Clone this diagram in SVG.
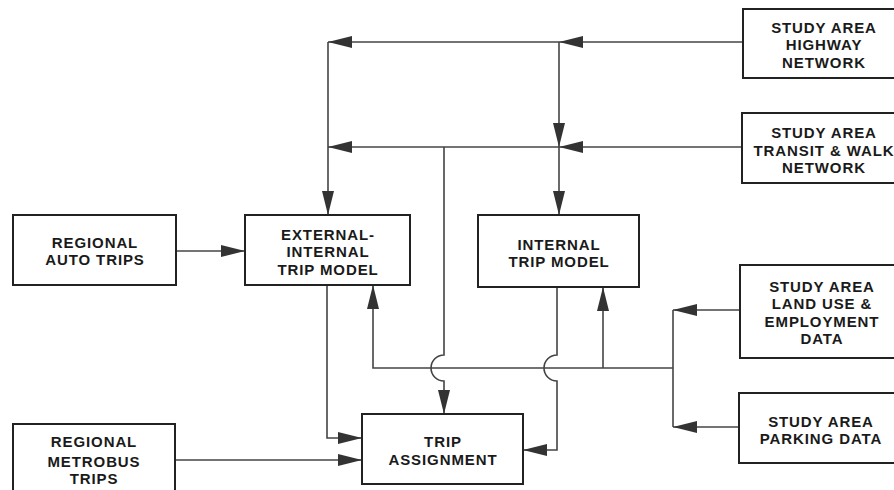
<svg xmlns="http://www.w3.org/2000/svg" width="894" height="490" viewBox="0 0 894 490">
<style>
.box{fill:#fff;stroke:#222;stroke-width:2}
.c{fill:none;stroke:#444;stroke-width:1.6}
.t{font-family:"Liberation Sans",Arial,sans-serif;font-weight:bold;font-size:15px;letter-spacing:0.9px;fill:#1a1a1a;text-anchor:middle}
</style>
<defs>
<marker id="arr" viewBox="0 0 24 12" refX="24" refY="6" markerWidth="24" markerHeight="12" orient="auto" markerUnits="userSpaceOnUse"><path d="M0,0 L24,6 L0,12 Z" fill="#333"/></marker>
</defs>
<rect width="894" height="490" fill="#fff"/>
<g id="connectors">
<path class="c" d="M743,42 H559" marker-end="url(#arr)"/>
<path class="c" d="M559,42 H328" marker-end="url(#arr)"/>
<path class="c" d="M328,42 V215" marker-end="url(#arr)"/>
<path class="c" d="M559,42 V147" marker-end="url(#arr)"/>
<path class="c" d="M742,147 H559" marker-end="url(#arr)"/>
<path class="c" d="M559,147 H328" marker-end="url(#arr)"/>
<path class="c" d="M559,147 V215" marker-end="url(#arr)"/>
<path class="c" d="M444,147 V355 A13,13 0 0 0 444,381 V414" marker-end="url(#arr)"/>
<path class="c" d="M327,285 V438 H362" marker-end="url(#arr)"/>
<path class="c" d="M557,287 V355 A13,13 0 0 0 557,381 V450 H523" marker-end="url(#arr)"/>
<path class="c" d="M673,368 H373 V285" marker-end="url(#arr)"/>
<path class="c" d="M603,368 V287" marker-end="url(#arr)"/>
<path class="c" d="M740,310 H673" marker-end="url(#arr)"/>
<path class="c" d="M673,310 V427"/>
<path class="c" d="M739,427 H673" marker-end="url(#arr)"/>
<path class="c" d="M176,251 H245" marker-end="url(#arr)"/>
<path class="c" d="M175,460 H362" marker-end="url(#arr)"/>
</g>
<g id="regional_auto"><rect class="box" x="13" y="215" width="163" height="70"/><text class="t" x="95" y="248">REGIONAL</text><text class="t" x="95" y="265">AUTO TRIPS</text></g>
<g id="ext_int"><rect class="box" x="245" y="215" width="165" height="70"/><text class="t" x="328" y="240">EXTERNAL-</text><text class="t" x="328" y="257">INTERNAL</text><text class="t" x="328" y="275">TRIP MODEL</text></g>
<g id="internal"><rect class="box" x="478" y="215" width="161" height="72"/><text class="t" x="559" y="250">INTERNAL</text><text class="t" x="559" y="267">TRIP MODEL</text></g>
<g id="trip_assign"><rect class="box" x="362" y="414" width="161" height="70"/><text class="t" x="443" y="447">TRIP</text><text class="t" x="443" y="465">ASSIGNMENT</text></g>
<g id="metrobus"><rect class="box" x="13" y="424" width="162" height="80"/><text class="t" x="94" y="447">REGIONAL</text><text class="t" x="94" y="467">METROBUS</text><text class="t" x="94" y="484">TRIPS</text></g>
<g id="highway"><rect class="box" x="743" y="9" width="165" height="69"/><text class="t" x="824" y="33">STUDY AREA</text><text class="t" x="824" y="50">HIGHWAY</text><text class="t" x="824" y="68">NETWORK</text></g>
<g id="transit"><rect class="box" x="742" y="113" width="165" height="70"/><text class="t" x="824" y="138">STUDY AREA</text><text class="t" x="824" y="156">TRANSIT &amp; WALK</text><text class="t" x="824" y="173">NETWORK</text></g>
<g id="landuse"><rect class="box" x="740" y="265" width="165" height="93"/><text class="t" x="822" y="292">STUDY AREA</text><text class="t" x="822" y="309">LAND USE &amp;</text><text class="t" x="822" y="327">EMPLOYMENT</text><text class="t" x="822" y="344">DATA</text></g>
<g id="parking"><rect class="box" x="739" y="393" width="165" height="70"/><text class="t" x="821" y="427">STUDY AREA</text><text class="t" x="821" y="444">PARKING DATA</text></g>
</svg>
